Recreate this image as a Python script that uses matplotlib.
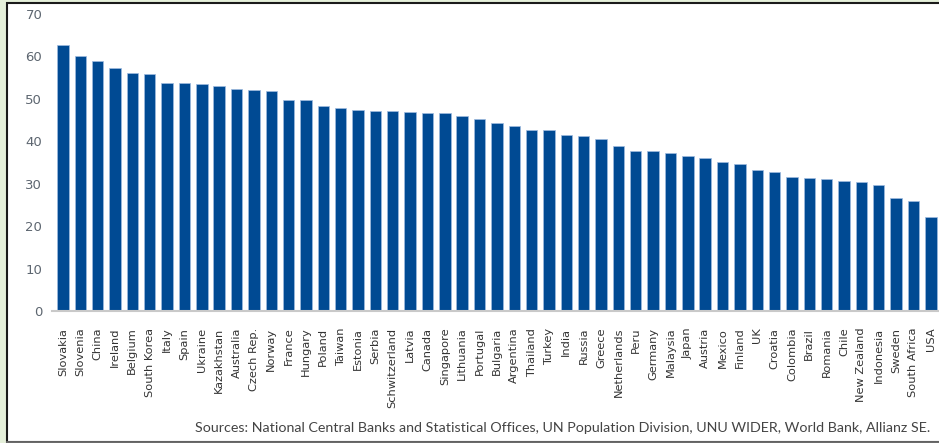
import matplotlib.pyplot as plt
from matplotlib.patches import Rectangle
from matplotlib.lines import Line2D

# country scores, sorted high to low
countries = ['Slovakia', 'Slovenia', 'China', 'Ireland', 'Belgium', 'South Korea',
             'Italy', 'Spain', 'Ukraine', 'Kazakhstan', 'Australia', 'Czech Rep.',
             'Norway', 'France', 'Hungary', 'Poland', 'Taiwan', 'Estonia', 'Serbia',
             'Schwitzerland', 'Latvia', 'Canada', 'Singapore', 'Lithuania', 'Portugal',
             'Bulgaria', 'Argentina', 'Thailand', 'Turkey', 'India', 'Russia', 'Greece',
             'Netherlands', 'Peru', 'Germany', 'Malaysia', 'Japan', 'Austria', 'Mexico',
             'Finland', 'UK', 'Croatia', 'Colombia', 'Brazil', 'Romania', 'Chile',
             'New Zealand', 'Indonesia', 'Sweden', 'South Africa', 'USA']
values = [62.7, 60.2, 58.9, 57.3, 56.1, 55.9, 53.8, 53.8, 53.6, 53.0, 52.3, 52.0,
          51.8, 49.7, 49.7, 48.2, 47.9, 47.4, 47.1, 47.1, 46.9, 46.7, 46.7, 46.0,
          45.2, 44.2, 43.7, 42.7, 42.7, 41.4, 41.2, 40.6, 38.8, 37.8, 37.8, 37.3,
          36.5, 36.1, 35.1, 34.6, 33.2, 32.7, 31.7, 31.4, 31.2, 30.7, 30.4, 29.7,
          26.6, 25.9, 22.1]
yticks = [0, 10, 20, 30, 40, 50, 60, 70]
source = ('Sources: National Central Banks and Statistical Offices, UN Population '
          'Division, UNU WIDER, World Bank, Allianz SE.')

W, H = 939, 443
fig = plt.figure(figsize=(W / 100, H / 100), dpi=100, facecolor='#e5f0da')

# white panel with dark frame, kept behind the axes
fig.patches.append(Rectangle((6.5 / W, 1.5 / H), 1.0, (H - 4) / H,
                             transform=fig.transFigure, facecolor='white',
                             edgecolor='#1a1a1a', linewidth=1.5, zorder=-5))
fig.lines.append(Line2D([6.5 / W, 1.0], [1.5 / H, 1.5 / H], transform=fig.transFigure,
                        color='#6b6b6b', linewidth=2.0, zorder=-4))

ax = fig.add_axes([52 / W, (H - 311) / H, 887 / W, 297 / H])
ax.set_zorder(1)
ax.set_facecolor('none')

x = list(range(len(countries)))
ax.bar(x, values, width=0.66, color='#004a93', edgecolor='#9fbbe0', linewidth=0.5)

ax.set_xlim(-0.63, 50.47)
ax.set_ylim(0, 70)
ax.set_yticks(yticks)
ax.set_xticks(x)
ax.set_xticklabels(countries, rotation=90, fontsize=8.2, color='#333333')
ax.tick_params(axis='x', length=0, pad=12)
ax.tick_params(axis='y', length=0, pad=7, labelsize=9.5, labelcolor='#5d6670')

for s in ['top', 'right', 'left']:
    ax.spines[s].set_visible(False)
ax.spines['bottom'].set_color('#c9c9c9')
ax.spines['bottom'].set_linewidth(1.5)

fig.text(930 / W, (H - 432) / H, source, ha='right', va='baseline',
         fontsize=10.3, color='#444444', family=['Lato', 'DejaVu Sans'])

fig.savefig('out.png', dpi=100, facecolor=fig.get_facecolor())
